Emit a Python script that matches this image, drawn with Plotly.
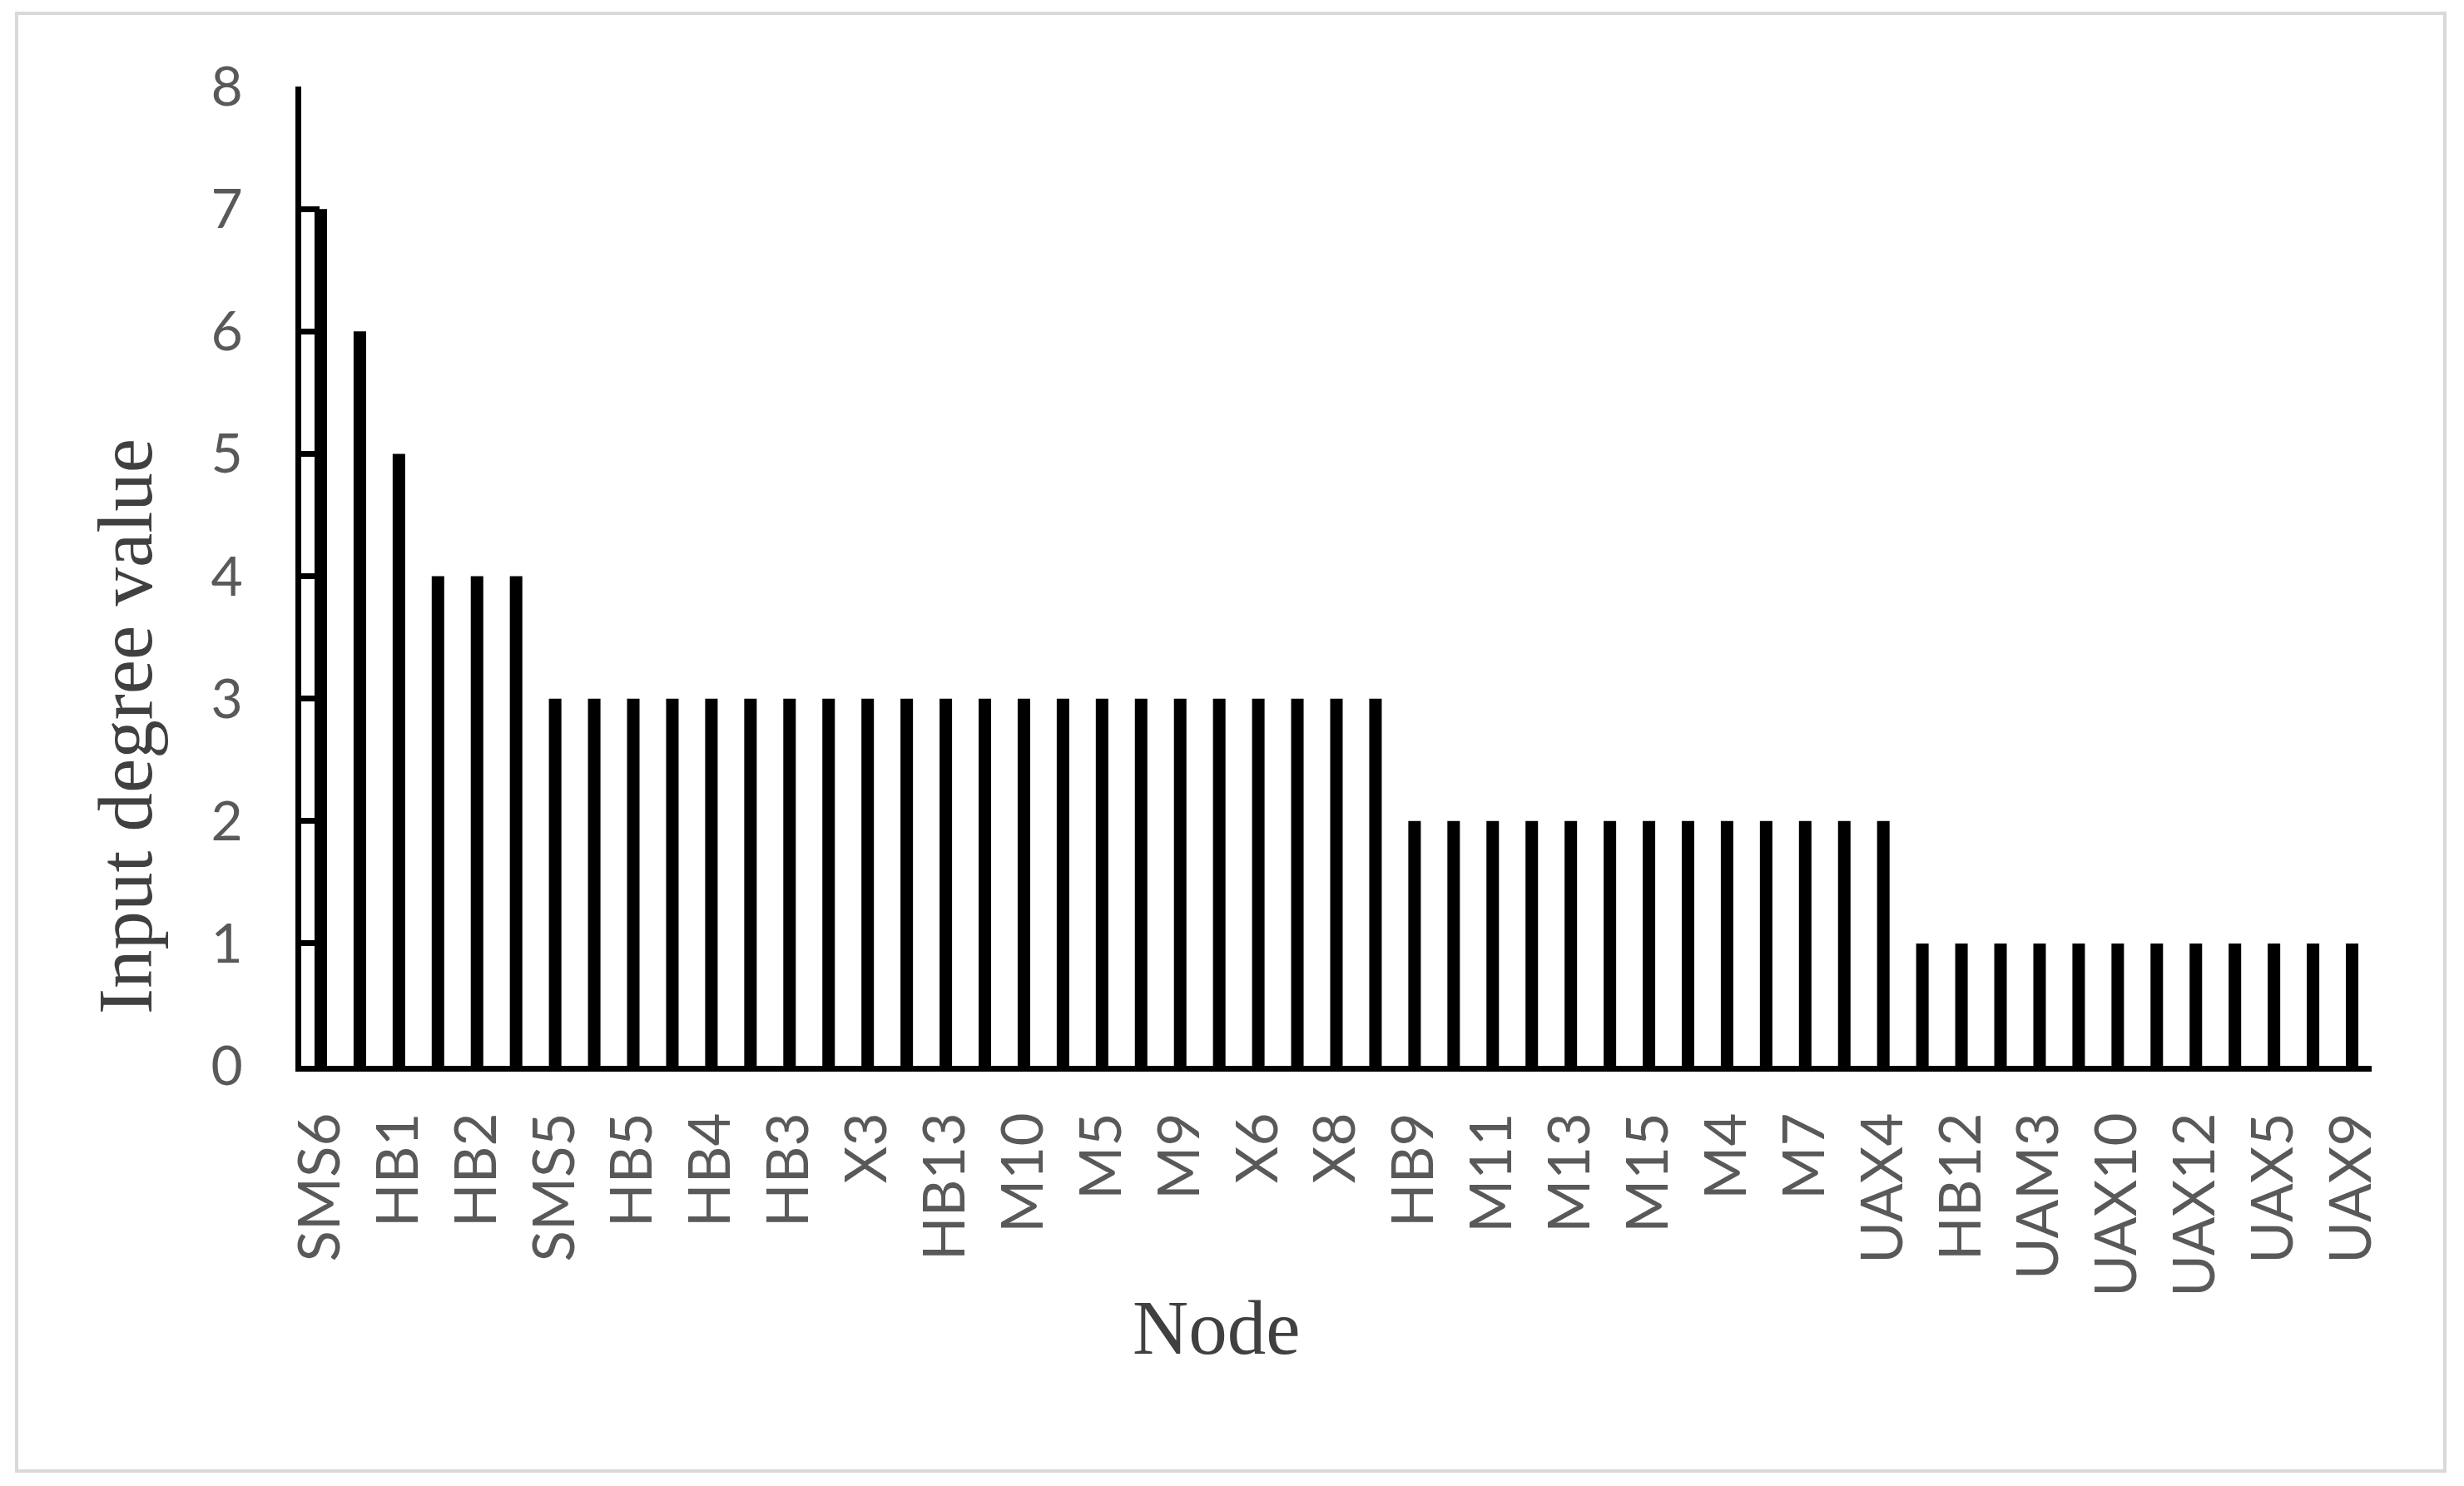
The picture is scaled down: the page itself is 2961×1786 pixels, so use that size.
import plotly.graph_objects as go

# ---- data ----
values = [7, 6, 5, 4, 4, 4,
          3, 3, 3, 3, 3, 3, 3, 3, 3, 3, 3, 3, 3, 3, 3, 3, 3, 3, 3, 3, 3, 3,
          2, 2, 2, 2, 2, 2, 2, 2, 2, 2, 2, 2, 2,
          1, 1, 1, 1, 1, 1, 1, 1, 1, 1, 1, 1]
tick_labels = ["SMS6", "HB1", "HB2", "SMS5", "HB5", "HB4", "HB3", "X3", "HB13",
               "M10", "M5", "M9", "X6", "X8", "HB9", "M11", "M13", "M15", "M4",
               "M7", "UAX4", "HB12", "UAM3", "UAX10", "UAX12", "UAX5", "UAX9"]
y_ticks = [0, 1, 2, 3, 4, 5, 6, 7, 8]

x_pos = list(range(len(values)))
label_pos = x_pos[::2]

# page body has a default 8px margin; lay out in page pixels and offset
OFF = 8
W, H = 2961 - 2 * OFF, 1786 - 2 * OFF
PL, PR, PT, PB = 362, 2850, 104, 1281   # plot area in page pixels
L, T = PL - OFF, PT - OFF
R = (OFF + W) - PR
B = (OFF + H) - PB
pw, ph = PR - PL, PB - PT

def px_x(p):
    return (p - PL) / pw

def px_y(p):
    return (PB - p) / ph

fig = go.Figure(go.Bar(
    x=x_pos, y=values, width=0.32,
    marker=dict(color="black", line=dict(width=0)),
))

tick_font = dict(family="Lato", size=69, color="#595959")
title_font = dict(family="Liberation Serif", size=93, color="#404040")

fig.update_layout(
    width=W, height=H,
    margin=dict(l=L, r=R, t=T, b=B, pad=0),
    paper_bgcolor="white", plot_bgcolor="white",
    showlegend=False,
    xaxis=dict(
        range=[-0.5, len(values) - 0.5],
        tickmode="array", tickvals=label_pos, ticktext=tick_labels,
        tickangle=-90, tickfont=tick_font, ticks="",
        showline=True, linecolor="black", linewidth=7,
        showgrid=False, zeroline=False, ticklabelstandoff=22,
    ),
    yaxis=dict(
        range=[0, 8], tickmode="array", tickvals=y_ticks,
        tickfont=dict(family="Lato", size=66, color="#595959"),
        ticks="inside", ticklen=22, tickwidth=7, tickcolor="black",
        showline=True, linecolor="black", linewidth=7,
        showgrid=False, zeroline=False, ticklabelstandoff=50,
    ),
    shapes=[dict(type="rect", xref="paper", yref="paper",
                 x0=px_x(20), x1=px_x(2938), y0=px_y(1768), y1=px_y(16),
                 line=dict(color="#d9d9d9", width=4), fillcolor="rgba(0,0,0,0)",
                 layer="below")],
    annotations=[
        dict(text="Input degree value", xref="paper", yref="paper",
             x=px_x(150), y=px_y(873), textangle=-90, showarrow=False,
             xanchor="center", yanchor="middle", font=title_font),
        dict(text="Node", xref="paper", yref="paper",
             x=px_x(1461), y=px_y(1595), showarrow=False,
             xanchor="center", yanchor="middle", font=title_font),
    ],
)

fig.write_html("out.html")
